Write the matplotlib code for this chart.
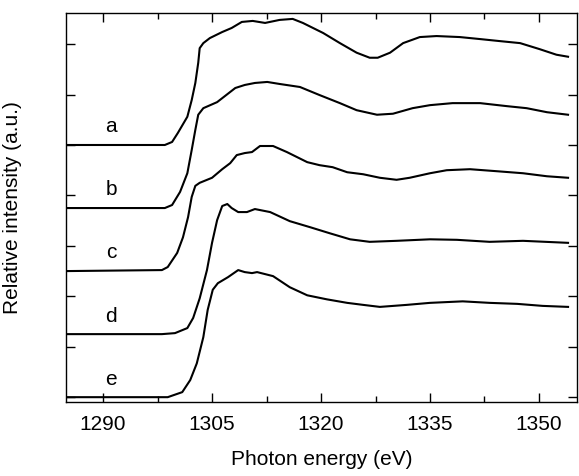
import matplotlib
matplotlib.use("Agg")
import matplotlib.pyplot as plt
from matplotlib.ticker import MultipleLocator

plt.rcParams['font.family'] = ['Liberation Sans', 'DejaVu Sans']

# spectra, each relative to its own baseline
energy_a = [1284.9, 1298.5, 1299.5, 1300.3, 1301.6, 1302.2, 1302.7, 1303.1, 1303.3, 1303.8,
            1304.7, 1306.4, 1307.7, 1309.1, 1310.6, 1312.3, 1314.3, 1316.1, 1317.5, 1320.3,
            1322.6, 1324.9, 1326.7, 1327.8, 1329.5, 1331.3, 1333.6, 1335.9, 1339.1, 1341.9,
            1344.6, 1347.4, 1350.1, 1352.4, 1354.0]
inten_a = [0, 0, 0.06, 0.24, 0.56, 0.89, 1.23, 1.63, 1.92, 2.02,
           2.12, 2.24, 2.32, 2.44, 2.46, 2.42, 2.48, 2.50, 2.42, 2.22,
           2.02, 1.83, 1.73, 1.73, 1.83, 2.02, 2.14, 2.16, 2.14, 2.10,
           2.06, 2.02, 1.90, 1.79, 1.75]

energy_b = [1284.9, 1298.5, 1299.5, 1300.6, 1301.6, 1302.2, 1302.7, 1303.1, 1303.8, 1305.7,
            1308.2, 1309.5, 1310.9, 1312.6, 1314.3, 1317.1, 1319.8, 1322.6, 1324.9, 1327.7,
            1329.9, 1332.6, 1335.0, 1338.1, 1341.9, 1345.6, 1348.3, 1351.1, 1354.0]
inten_b = [0, 0, 0.06, 0.32, 0.69, 1.15, 1.55, 1.85, 1.98, 2.10,
           2.38, 2.44, 2.48, 2.50, 2.46, 2.40, 2.24, 2.08, 1.94, 1.85,
           1.87, 1.98, 2.04, 2.08, 2.08, 2.02, 1.98, 1.90, 1.85]

energy_c = [1284.9, 1298.1, 1298.9, 1300.2, 1301.0, 1301.7, 1302.2, 1302.7, 1303.3, 1305.0,
            1306.4, 1307.5, 1308.4, 1309.5, 1310.5, 1311.6, 1313.4, 1315.3, 1318.1, 1319.8,
            1321.6, 1323.6, 1325.8, 1328.1, 1330.4, 1332.2, 1335.0, 1337.3, 1340.5, 1344.2,
            1347.8, 1351.1, 1354.0]
inten_c = [0, 0.02, 0.08, 0.36, 0.67, 1.07, 1.47, 1.69, 1.75, 1.85,
           2.02, 2.14, 2.30, 2.34, 2.36, 2.48, 2.48, 2.36, 2.16, 2.10,
           2.06, 1.96, 1.92, 1.85, 1.81, 1.85, 1.94, 2.00, 2.02, 1.98,
           1.94, 1.88, 1.85]

energy_d = [1284.9, 1298.1, 1299.9, 1301.6, 1302.4, 1303.3, 1304.3, 1305.0, 1305.7, 1306.4,
            1307.1, 1307.7, 1308.6, 1309.8, 1310.9, 1313.0, 1315.7, 1318.5, 1321.2, 1324.0,
            1326.7, 1330.4, 1335.0, 1338.7, 1343.2, 1347.8, 1354.0]
inten_d = [0, 0, 0.02, 0.12, 0.32, 0.71, 1.27, 1.81, 2.26, 2.54,
           2.58, 2.50, 2.42, 2.42, 2.48, 2.42, 2.24, 2.12, 2.00, 1.88,
           1.83, 1.85, 1.88, 1.87, 1.83, 1.85, 1.81]

energy_e = [1284.9, 1298.9, 1300.9, 1302.0, 1302.9, 1303.8, 1304.4, 1305.1, 1305.8, 1307.2,
            1308.6, 1309.5, 1310.5, 1311.2, 1313.4, 1315.7, 1318.1, 1320.8, 1323.6, 1325.8,
            1328.1, 1331.8, 1335.0, 1339.5, 1343.2, 1347.0, 1350.5, 1354.0]
inten_e = [0, 0, 0.10, 0.34, 0.67, 1.19, 1.73, 2.13, 2.26, 2.38,
           2.52, 2.48, 2.46, 2.48, 2.40, 2.18, 2.02, 1.94, 1.87, 1.83,
           1.79, 1.83, 1.87, 1.90, 1.87, 1.85, 1.81, 1.79]

labels = ['a', 'b', 'c', 'd', 'e']
offsets = [5.0, 3.75, 2.5, 1.25, 0.0]
xticks = [1290, 1305, 1320, 1335, 1350]

spectra = [(energy_a, inten_a), (energy_b, inten_b), (energy_c, inten_c),
           (energy_d, inten_d), (energy_e, inten_e)]

fig = plt.figure(figsize=(5.79, 4.76), dpi=100)
ax = fig.add_axes([0.114, 0.155, 0.8834, 0.818])

for (en, it), off, lab in zip(spectra, offsets, labels):
    ax.plot(en, [v + off for v in it], color='black', lw=1.5)
    ax.text(1291.1, off + 0.25, lab, ha='center', va='baseline', fontsize=15)

ax.set_xlim(1284.9, 1355.3)
ax.set_ylim(-0.1, 7.62)
ax.set_xticks(xticks)
ax.xaxis.set_minor_locator(MultipleLocator(7.5))
ax.yaxis.set_major_locator(MultipleLocator(1))
ax.set_yticklabels([])

ax.tick_params(which='both', direction='in', top=True, right=True, width=1)
ax.tick_params(which='major', length=6.5)
ax.tick_params(which='minor', length=4)
ax.tick_params(axis='x', labelsize=15, pad=9)
for s in ax.spines.values():
    s.set_linewidth(1)

ax.set_xlabel('Photon energy (eV)', fontsize=15)
ax.set_ylabel('Relative intensity (a.u.)', fontsize=15)
ax.xaxis.set_label_coords(0.5, -0.123)
ax.yaxis.set_label_coords(-0.086, 0.5)

fig.savefig('out.png', dpi=100)
